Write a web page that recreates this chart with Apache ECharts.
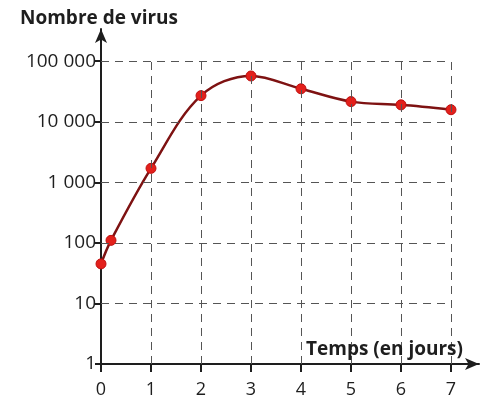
<!DOCTYPE html>
<html>
<head>
<meta charset="utf-8">
<script src="https://cdn.jsdelivr.net/npm/echarts@6/dist/echarts.min.js"></script>
<style>
  html, body { margin: 0; padding: 0; background: #fff; }
  #chart { width: 484px; height: 400px; }
</style>
</head>
<body>
<div id="chart"></div>
<script>
// jours et nombre de virus
var days = [0, 0.2, 1, 2, 3, 4, 5, 6, 7];
var virus = [45, 110, 1700, 27000, 57000, 35000, 21500, 19000, 15800];
// graduations
var xTicks = [0, 1, 2, 3, 4, 5, 6, 7];
var yTicks = [1, 10, 100, 1000, 10000, 100000];

var FONT = '"Open Sans", sans-serif';
var INK = '#1e1e1e';

// quadrillage en pointillés (passe par les axes)
var gridLines = [];
xTicks.slice(1).forEach(function (x) {
  gridLines.push([{ coord: [x, yTicks[0]] }, { coord: [x, yTicks[yTicks.length - 1]] }]);
});
yTicks.slice(1).forEach(function (y) {
  gridLines.push([{ coord: [xTicks[0], y] }, { coord: [xTicks[xTicks.length - 1], y] }]);
});

function fmtNombre(v) {
  return String(Math.round(v)).replace(/\B(?=(\d{3})+(?!\d))/g, ' ');
}

var chart = echarts.init(document.getElementById('chart'));
chart.setOption({
  animation: false,
  backgroundColor: '#fff',
  title: [
    { text: 'Nombre de virus', left: 15, top: 4,
      textStyle: { fontFamily: FONT, fontSize: 19, fontWeight: 'bold', color: INK } },
    { text: 'Temps (en jours)', right: 16, top: 335,
      textStyle: { fontFamily: FONT, fontSize: 19, fontWeight: 'bold', color: INK } }
  ],
  grid: { left: 101, right: 5, top: 29, bottom: 36 },
  xAxis: {
    type: 'value',
    min: 0,
    max: 7.56,
    axisLine: { onZero: false, symbol: ['none', 'arrow'], symbolSize: [9, 14],
      lineStyle: { color: INK, width: 2 } },
    axisTick: { customValues: xTicks, length: 8, lineStyle: { color: INK, width: 2 } },
    axisLabel: { customValues: xTicks, margin: 17, fontFamily: FONT, fontSize: 18, color: INK },
    splitLine: { show: false }
  },
  yAxis: {
    type: 'log',
    logBase: 10,
    min: 1,
    max: 340000,
    axisLine: { symbol: ['none', 'arrow'], symbolSize: [9, 14],
      lineStyle: { color: INK, width: 2 } },
    axisTick: { customValues: yTicks, length: 6, lineStyle: { color: INK, width: 2 } },
    axisLabel: { customValues: yTicks, margin: 5, fontFamily: FONT, fontSize: 19, color: INK,
      formatter: fmtNombre },
    splitLine: { show: false }
  },
  series: [
    {
      type: 'line',
      data: [],
      silent: true,
      z: 1,
      markLine: {
        silent: true,
        symbol: ['none', 'none'],
        label: { show: false },
        lineStyle: { type: [8, 6], color: '#555', width: 1 },
        data: gridLines
      }
    },
    {
      type: 'line',
      z: 3,
      data: days.map(function (d, i) { return [d, virus[i]]; }),
      smooth: 0.35,
      symbol: 'circle',
      symbolSize: 10,
      lineStyle: { color: '#7e1212', width: 2.5 },
      itemStyle: { color: '#e3201b', borderColor: '#c01010', borderWidth: 1 }
    }
  ]
});
</script>
</body>
</html>
